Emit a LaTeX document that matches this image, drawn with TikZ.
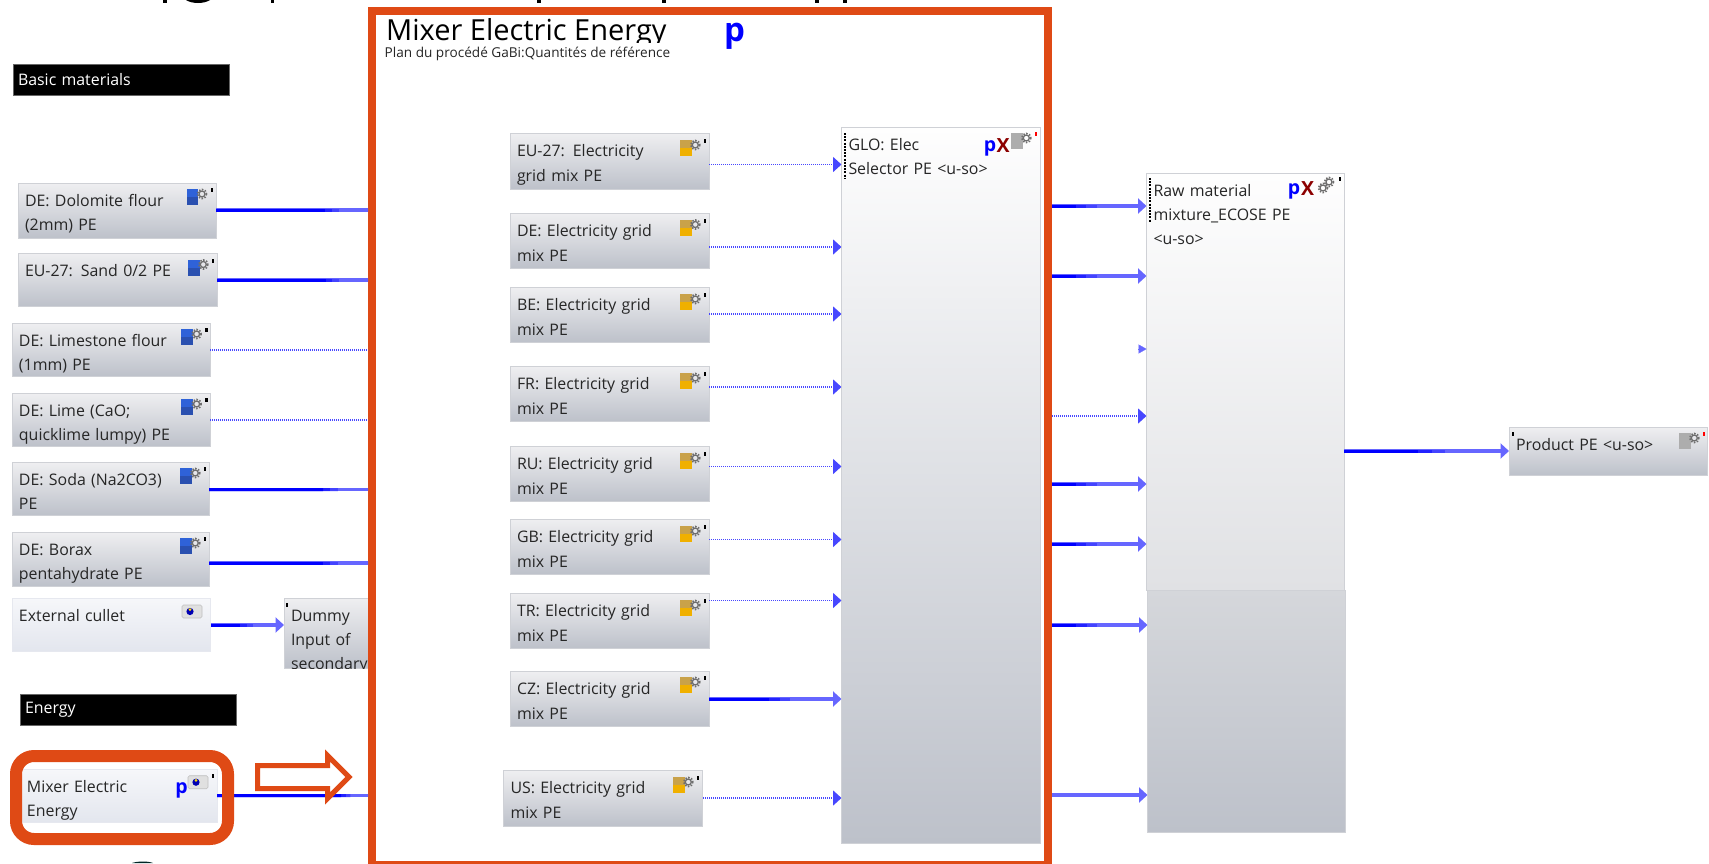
\documentclass[tikz,border=0pt]{standalone}
\usepackage{fontspec}
\setmainfont{Open Sans}
\usetikzlibrary{arrows.meta,calc}
\definecolor{orng}{HTML}{DF4A15}
\definecolor{flowd}{HTML}{0000FF}
\definecolor{flowl}{HTML}{6666FF}
\definecolor{gearc}{HTML}{6E6E6E}
\definecolor{HTML1}{HTML}{EFEFF1}
\definecolor{HTML2}{HTML}{BDC1CA}
\definecolor{HTML3}{HTML}{CFD1D6}
\definecolor{HTML4}{HTML}{F6F7FA}
\definecolor{HTML5}{HTML}{E3E6EE}
\definecolor{HTML6}{HTML}{E6E8EF}
\definecolor{HTML7}{HTML}{FEFEFE}
\definecolor{HTML8}{HTML}{E0E1E4}
\definecolor{HTML9}{HTML}{D5D7DB}
\definecolor{bluetop}{HTML}{2F62D8}
\definecolor{bluebot}{HTML}{2A50B0}
\definecolor{yeltop}{HTML}{C9A24A}
\definecolor{yelbot}{HTML}{F0B000}
\tikzset{
  base/.style={inner xsep=7pt,inner ysep=5pt,outer sep=0pt,align=left,text=black!85,
    font=\fontsize{15.9}{24}\selectfont},
  procd/.style={base,top color=HTML1,bottom color=HTML2,draw=HTML3,line width=1pt},
  procl/.style={base,top color=HTML4,bottom color=HTML5,draw=HTML6,line width=.8pt},
  elec/.style={procd,font=\fontsize{15.9}{25}\selectfont},
  tallg/.style={base,top color=HTML7,bottom color=HTML2,draw=HTML3,line width=1pt},
  tall/.style={base,top color=HTML7,bottom color=HTML8,draw=HTML3,line width=1pt},
  lower/.style={outer sep=0pt,inner sep=0pt,top color=HTML9,bottom color=HTML2,draw=HTML3,line width=.8pt},
  header/.style={fill=black,draw=black!60,line width=.6pt,text=white,anchor=north west,outer sep=0pt,
    inner xsep=5pt,inner ysep=0pt,align=left,font=\fontsize{15.9}{18}\selectfont},
  flowlt/.style={color=flowl,line width=3.8pt},
  flowdk/.style={line width=3pt},
  flowtip/.style={-{Triangle[length=8.5pt,width=15pt]}},
  dotflow/.style={color=flowl!70!flowd,line width=1.5pt,dash pattern=on 1pt off 1pt},
  letterp/.style={text=blue,inner sep=0pt,font=\fontsize{19.5}{20}\selectfont\bfseries},
  letterx/.style={text=red!55!black,inner sep=0pt,font=\fontsize{19.5}{20}\selectfont\bfseries},
}
% style, name, x1, y1, x2, y2, text
\newcommand{\pb}[7]{%
  \pgfmathsetmacro\bw{#5-#3}\pgfmathsetmacro\bh{#6-#4}%
  \pgfmathsetmacro\bd{\bh-28}\pgfmathsetmacro\btw{\bw-14}%
  \node[#1,anchor=north west,minimum width=\bw pt,minimum height=\bh pt,
    text width=\btw pt,text height=18pt,text depth=\bd pt] (#2) at (#3,#4) {#7};}
\newcommand{\gear}[2]{%
  \draw[gearc,line width=1.6pt,dash pattern=on 1.5pt off 1.5pt] (#1,#2) circle (4.6);
  \draw[gearc,line width=1.3pt] (#1,#2) circle (3);}
% upper colour, lower colour, x, y, dot colour
\newcommand{\icon}[5]{%
  \fill[#2] (#3,#4) rectangle ++(11.5,16);
  \fill[#1] (#3,#4) rectangle ++(11.5,8);
  \gear{#3+15.3}{#4+5}
  \fill[#5] (#3+23.8,#4-1) rectangle ++(2.4,4);}
\newcommand{\bicon}[2]{\icon{bluetop}{bluebot}{#1}{#2}{black}}
\newcommand{\yicon}[2]{\icon{yeltop}{yelbot}{#1}{#2}{black}}
\newcommand{\gicon}[3]{\icon{black!32}{black!32}{#1}{#2}{#3}}
\newcommand{\cam}[2]{%
  \fill[black!12,draw=black!25,line width=.6pt,rounded corners=1.5pt] (#1,#2) rectangle ++(20,13);
  \fill[blue!70!black] (#1+8,#2+6.5) circle (3.6);
  \fill[yellow!80!orange] (#1+8,#2+4.6) circle (1.5);}
% line from a to b, getting lighter after fraction f
\newcommand{\layers}[3]{%
  \pgfmathsetmacro\fa{#3+.3*(1-#3)}\pgfmathsetmacro\fb{#3+.15*(1-#3)}%
  \draw[flowdk,color=flowl!66!flowd] (#1) -- ($(#1)!\fa!(#2)$);
  \draw[flowdk,color=flowl!33!flowd] (#1) -- ($(#1)!\fb!(#2)$);
  \draw[flowdk,color=flowd] (#1) -- ($(#1)!#3!(#2)$);}
\newcommand{\flowtip}[3]{\draw[flowlt,flowtip] (#1) -- (#2);\layers{#1}{#2}{#3}}
\newcommand{\flowend}[3]{\draw[flowlt] (#1) -- (#2);\layers{#1}{#2}{#3}}
\begin{document}
\begin{tikzpicture}[x=1pt,y=-1pt]
\useasboundingbox (0,0) rectangle (1709,863);
\clip (0,0) rectangle (1709,863);
% clipped remains of a heading above and below the picture
\fill[black] (163,0) rectangle (167,3);
\fill[black] (186,0) .. controls (192,4) and (204,4) .. (210,0) -- cycle;
\fill[black] (271,0) rectangle (274,3);
\foreach \px in {537,662,815,843} {\fill[black] (\px,0) rectangle ++(3.5,3);}
\fill[black!70!teal] (132,863) .. controls (138,861) and (148,861) .. (153,863) -- cycle;

% headers
\node[header,minimum width=216pt,minimum height=31pt,text width=206pt] (hbasic) at (13,64) {\raisebox{-1pt}{Basic materials}};
\node[header,minimum width=216pt,minimum height=31pt,text width=206pt] (henergy) at (20,694) {\raisebox{-3pt}{Energy}};

% left process boxes
\pb{procd}{dolomite}{18}{183}{216}{238}{DE: Dolomite flour\\(2mm) PE}
\pb{procd}{sand}{18}{253}{217}{306}{EU-27: Sand 0/2 PE}
\pb{procd}{limestone}{12}{323}{210}{376}{DE: Limestone flour\\(1mm) PE}
\pb{procd}{lime}{12}{393}{210}{446}{DE: Lime (CaO;\\quicklime lumpy) PE}
\pb{procd}{soda}{12}{462}{209}{515}{DE: Soda (Na2CO3)\\PE}
\pb{procd}{borax}{12}{532}{209}{586}{DE: Borax\\pentahydrate PE}
\pb{procl}{cullet}{12}{598}{210}{651}{External cullet}
\begin{scope}
\clip (284,598) rectangle (368,668);
\pb{procd}{dummy}{284}{598}{372}{668}{Dummy\\Input of\\secondary}
\end{scope}
\pb{procl}{mixerbox}{20}{769}{217}{822}{Mixer Electric\\Energy}

\bicon{186.7}{189}\bicon{188}{259.5}\bicon{181.3}{329}\bicon{181.3}{399}\bicon{180}{468}\bicon{180}{538}
\cam{182}{605}
\fill[black] (286,603) rectangle ++(2.4,4);

% frame and connectors to it
\node[draw=orng,line width=8pt,fill=white,anchor=north west,outer sep=0pt,inner sep=0pt,
  minimum width=676pt,minimum height=854pt] (frame) at (372,11) {};
\coordinate (p1) at (216,210);\coordinate (p2) at (217,280);\coordinate (p3) at (210,350);
\coordinate (p4) at (210,420);\coordinate (p5) at (209,489.5);\coordinate (p6) at (209,563);
\coordinate (p7) at (217,795.5);\coordinate (p8) at (211,625);
\begin{scope}
\clip (0,0) rectangle (368,863);
\flowend{p1}{p1 -| frame.west}{.7}
\flowend{p2}{p2 -| frame.west}{.7}
\draw[dotflow] (p3) -- (p3 -| frame.west);
\draw[dotflow] (p4) -- (p4 -| frame.west);
\flowend{p5}{p5 -| frame.west}{.7}
\flowend{p6}{p6 -| frame.west}{.7}
\flowend{p7}{p7 -| frame.west}{.8}
\end{scope}
\flowtip{p8}{p8 -| dummy.west}{.4}

% frame title
\begin{scope}
\clip (380,16) rectangle (700,42);
\node[anchor=base west,inner sep=0pt,text=black,font=\fontsize{29}{30}\selectfont] (ftitle) at (386,40) {Mixer Electric Energy};
\end{scope}
\node[anchor=base west,inner sep=0pt,text=black!85,font=\fontsize{13.6}{14}\selectfont] (fsub) at (384.5,57) {Plan du procédé GaBi:Quantités de référence};
\node[letterp,anchor=center,font=\fontsize{33}{33}\selectfont\bfseries] (fp) at (734.5,36) {p};

% big boxes
\pb{tallg}{glo}{841.5}{127}{1040}{843}{GLO: Elec\\Selector PE <u-so>}
\node[lower,anchor=north west,minimum width=198pt,minimum height=242pt] (rawlow) at (1147.5,590) {};
\pb{tall}{raw}{1146.5}{173}{1344}{590}{Raw material\\mixture\_ECOSE PE\\<u-so>}
\pb{procd}{product}{1509}{427}{1707}{475}{Product PE <u-so>}

% electricity boxes
\pb{elec}{eu}{510}{133}{709}{189}{EU-27: Electricity\\grid mix PE}
\pb{elec}{de}{510}{213}{709}{268}{DE: Electricity grid\\mix PE}
\pb{elec}{be}{510}{287}{709}{342}{BE: Electricity grid\\mix PE}
\pb{elec}{fr}{510}{366}{709}{421}{FR: Electricity grid\\mix PE}
\pb{elec}{ru}{510}{446}{709}{501}{RU: Electricity grid\\mix PE}
\pb{elec}{gb}{510}{519}{709}{574}{GB: Electricity grid\\mix PE}
\pb{elec}{tr}{510}{593}{709}{648}{TR: Electricity grid\\mix PE}
\pb{elec}{cz}{510}{671}{709}{726}{CZ: Electricity grid\\mix PE}
\pb{elec}{us}{503.5}{770}{702}{826}{US: Electricity grid\\mix PE}

\yicon{680}{140}\yicon{680}{219.5}\yicon{680}{294}\yicon{680}{373}\yicon{680}{453}\yicon{680}{526}\yicon{680}{600}\yicon{680}{677}\yicon{673}{777}

% connectors electricity -> selector
\coordinate (e1) at (709,164.5);\coordinate (e2) at (709,247);\coordinate (e3) at (709,314);
\coordinate (e4) at (709,387);\coordinate (e5) at (709,466.5);\coordinate (e6) at (709,539.5);
\coordinate (e7) at (709,600.5);\coordinate (e8) at (709,699);\coordinate (e9) at (703,798);
\foreach \e in {e1,e2,e3,e4,e5,e6,e7,e9} {\draw[dotflow,flowtip] (\e) -- (\e -| glo.west);}
\flowtip{e8}{e8 -| glo.west}{.45}

% connectors frame -> raw
\coordinate (r1) at (1052,206);\coordinate (r2) at (1052,276);\coordinate (r3) at (1138,349);
\coordinate (r4) at (1052,416);\coordinate (r5) at (1052,484);\coordinate (r6) at (1052,544);
\coordinate (r7) at (1052,625);\coordinate (r8) at (1052,795);
\flowtip{r1}{r1 -| raw.west}{.25}
\flowtip{r2}{r2 -| raw.west}{.25}
\draw[flowl,-{Triangle[length=8pt,width=9pt]},line width=.2pt] (r3) -- (r3 -| raw.west);
\draw[dotflow,flowtip] (r4) -- (r4 -| raw.west);
\flowtip{r5}{r5 -| raw.west}{.25}
\flowtip{r6}{r6 -| raw.west}{.25}
\flowtip{r7}{r7 -| rawlow.west}{.25}
\draw[flowlt,flowtip] (r8) -- (r8 -| rawlow.west);
\coordinate (o1) at (1344,451);
\flowtip{o1}{o1 -| product.west}{.45}

% selector decorations
\draw[black,line width=2.4pt,dash pattern=on 2pt off 1.2pt] (845,133) -- (845,178);
\gicon{1011}{133}{red}
\node[letterp] (glop) at (990,148) {p};
\node[letterx] (glox) at (1003,146) {X};
\draw[black,line width=2.4pt,dash pattern=on 2pt off 1.2pt] (1150,178) -- (1150,222);
\node[letterp] (rawp) at (1294,191) {p};
\node[letterx] (rawx) at (1307.5,189) {X};
\gear{1323}{188}\gear{1329}{182}
\fill[black] (1339,177) rectangle ++(2.4,4);
\gicon{1679}{433}{red}
\fill[black] (1512,432) rectangle ++(2.4,4);

% mixer box marks and highlight
\node[letterp] (mixp) at (181.5,790) {p};
\cam{188}{775.7}
\fill[black] (211.5,774) rectangle ++(2.4,4);
\node[draw=orng,line width=12pt,rounded corners=18pt,anchor=north west,outer sep=0pt,inner sep=0pt,
  minimum width=212pt,minimum height=83pt] (hilite) at (16,756) {};
\draw[orng,line width=5pt,fill=white,miter limit=10] (257.5,765.5) -- (327.5,765.5) -- (327.5,755.5) -- (349,777) -- (327.5,798.5) -- (327.5,788.5) -- (257.5,788.5) -- cycle;
\end{tikzpicture}
\end{document}
